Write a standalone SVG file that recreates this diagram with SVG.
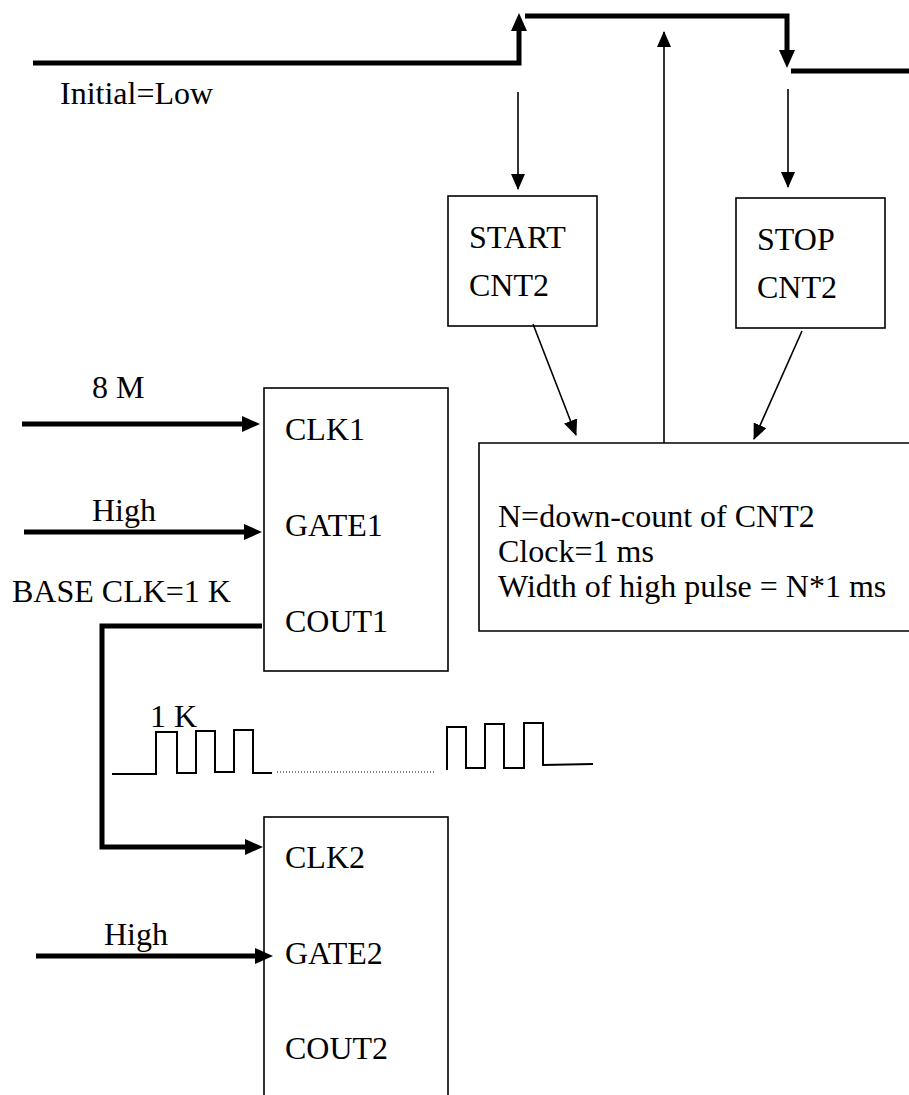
<svg xmlns="http://www.w3.org/2000/svg" width="909" height="1095" viewBox="0 0 909 1095" font-family="'Liberation Serif', 'Times New Roman', Times, serif">
<style>
text { font-family: 'Liberation Serif', 'Times New Roman', Times, serif; font-size: 32px; fill: #000; }
.box { fill: #fff; stroke: #000; stroke-width: 1.6; }
.thin { fill: none; stroke: #000; stroke-width: 1.6; }
.thick { fill: none; stroke: #000; stroke-width: 5; }
.wave { fill: none; stroke: #000; stroke-width: 2; }
.dots { fill: none; stroke: #000; stroke-width: 1; stroke-dasharray: 1 2; }
</style>
<defs>
<marker id="ah" markerUnits="userSpaceOnUse" markerWidth="16" markerHeight="14" viewBox="0 0 16 14" refX="15" refY="7" orient="auto">
<path d="M0,0 L16,7 L0,14 z" fill="#000"/>
</marker>
<marker id="ahT" markerUnits="userSpaceOnUse" markerWidth="18" markerHeight="16" viewBox="0 0 18 16" refX="2" refY="8" orient="auto">
<path d="M0,0 L18,8 L0,16 z" fill="#000"/>
</marker>
</defs>
<rect width="909" height="1095" fill="#fff"/>

<g id="signal">
<path class="thick" d="M33,63 H519 V29" marker-end="url(#ahT)"/>
<path class="thick" d="M525,16 H787 V52" marker-end="url(#ahT)"/>
<path class="thick" d="M791,71 H909"/>
<text x="60" y="104">Initial=Low</text>
</g>

<g id="start-cnt2">
<rect class="box" x="448" y="196" width="149" height="130"/>
<text x="469" y="248">START</text>
<text x="469" y="296">CNT2</text>
</g>

<g id="stop-cnt2">
<rect class="box" x="736" y="198" width="149" height="130"/>
<text x="757" y="250">STOP</text>
<text x="757" y="298">CNT2</text>
</g>

<g id="info">
<path class="thin" d="M909,443 H479 V631 H909"/>
<text x="498" y="527">N=down-count of CNT2</text>
<text x="498" y="562">Clock=1 ms</text>
<text x="498" y="597">Width of high pulse = N*1 ms</text>
</g>

<g id="cnt1">
<rect class="box" x="264" y="388" width="184" height="283"/>
<text x="285" y="440">CLK1</text>
<text x="285" y="536">GATE1</text>
<text x="285" y="632">COUT1</text>
</g>

<g id="cnt2">
<rect class="box" x="264" y="817" width="184" height="300"/>
<text x="285" y="868">CLK2</text>
<text x="285" y="964">GATE2</text>
<text x="285" y="1059">COUT2</text>
</g>

<g id="connectors">
<path class="thin" d="M518,92 V189" marker-end="url(#ah)"/>
<path class="thin" d="M788,89 V187" marker-end="url(#ah)"/>
<path class="thin" d="M664,443 V32" marker-end="url(#ah)"/>
<path class="thin" d="M533,324 L576,435" marker-end="url(#ah)"/>
<path class="thin" d="M802,331 L754,439" marker-end="url(#ah)"/>
<path class="thick" d="M22,424 H244" marker-end="url(#ahT)"/>
<path class="thick" d="M24,532 H246" marker-end="url(#ahT)"/>
<path class="thick" d="M262,626 H102 V847 H247" marker-end="url(#ahT)"/>
<path class="thick" d="M36,956 H257" marker-end="url(#ahT)"/>
</g>

<g id="labels">
<text x="92" y="398">8 M</text>
<text x="92" y="521">High</text>
<text x="12" y="602">BASE CLK=1 K</text>
<text x="104" y="945">High</text>
<text x="150" y="727">1 K</text>
</g>

<g id="waveform">
<path class="wave" d="M112,774 H156 V732 H177 V773 H196 V731 H215 V772 H234 V730 H253 V773 H272"/>
<path class="dots" d="M277,772 H435"/>
<path class="wave" d="M447,770 V727 H466 V768 H485 V724 H504 V768 H524 V723 H543 V765 L593,764"/>
</g>
</svg>
